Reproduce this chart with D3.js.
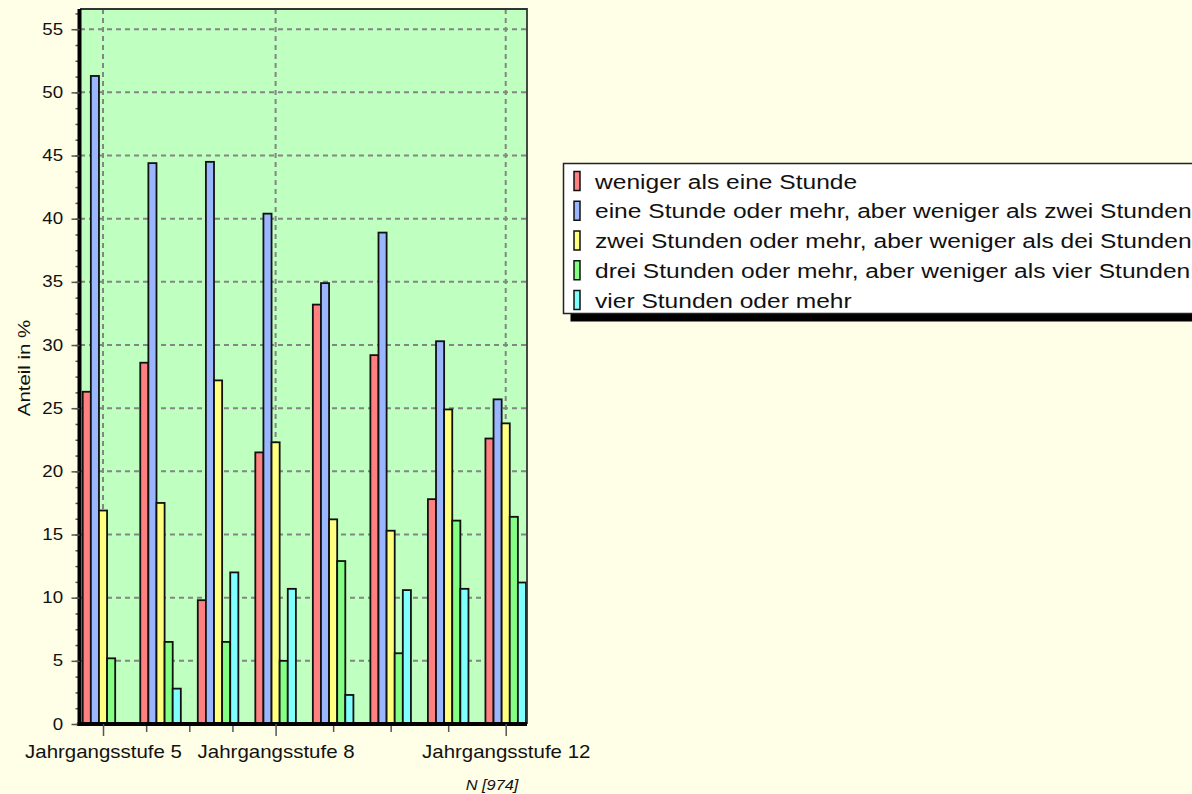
<!DOCTYPE html>
<html>
<head>
    <meta charset="utf-8">
    <title>Anteil in % nach Jahrgangsstufe</title>
    <script src="https://cdn.jsdelivr.net/npm/d3@7/dist/d3.min.js"></script>
    <style>
        body {
            margin: 0;
            background: #fffee6;
        }
        text {
            font-family: 'Liberation Sans', Arial, sans-serif;
            fill: #111;
        }
        .grid line {
            stroke: #858585;
            stroke-width: 2;
            stroke-dasharray: 5,4;
        }
        .axis .tick line {
            stroke: #555;
            stroke-width: 1.5;
        }
        .axis .domain {
            stroke: #000;
            stroke-width: 4;
        }
    </style>
</head>
<body>

<script>
    // Jahrgangsstufen (x categories)
    var groups = ['Jahrgangsstufe 5', 'Jahrgangsstufe 6', 'Jahrgangsstufe 7', 'Jahrgangsstufe 8',
                  'Jahrgangsstufe 9', 'Jahrgangsstufe 10', 'Jahrgangsstufe 11', 'Jahrgangsstufe 12'];
    var labelledGroups = [0, 3, 7];
    var minorGroupTicks = [0.75, 1.5, 2.25, 4, 5, 6];

    var seriesNames = [
        'weniger als eine Stunde',
        'eine Stunde oder mehr, aber weniger als zwei Stunden',
        'zwei Stunden oder mehr, aber weniger als dei Stunden',
        'drei Stunden oder mehr, aber weniger als vier Stunden',
        'vier Stunden oder mehr'
    ];

    // values in % per Jahrgangsstufe 5..12
    var lessThanOne = [26.3, 28.6, 9.8, 21.5, 33.2, 29.2, 17.8, 22.6];
    var oneToTwo = [51.3, 44.4, 44.5, 40.4, 34.9, 38.9, 30.3, 25.7];
    var twoToThree = [16.9, 17.5, 27.2, 22.3, 16.2, 15.3, 24.9, 23.8];
    var threeToFour = [5.2, 6.5, 6.5, 5.0, 12.9, 5.6, 16.1, 16.4];
    var fourPlus = [0, 2.8, 12.0, 10.7, 2.3, 10.6, 10.7, 11.2];

    var yTicks = [0, 5, 10, 15, 20, 25, 30, 35, 40, 45, 50, 55];
    var yLabel = 'Anteil in %';
    var nLabel = 'N [974]';

    var series = [lessThanOne, oneToTwo, twoToThree, threeToFour, fourPlus];
    var colors = ['#ff8080', '#99b6ff', '#ffff80', '#84ff84', '#80ffff'];

    var width = 1192, height = 794;
    var plotLeft = 80, plotTop = 9, plotRight = 527, plotBottom = 724;
    var stretch = 'scale(1.17,1)';

    var svg = d3.select('body').append('svg')
        .attr('width', width)
        .attr('height', height);

    var x = d3.scaleLinear()
        .domain([-0.4, 7.37])
        .range([plotLeft, plotRight]);

    var y = d3.scaleLinear()
        .domain([0, 56.6])
        .range([plotBottom, plotTop]);

    var barW = (x(1) - x(0)) * 0.141;

    // plot background
    svg.append('rect')
        .attr('x', plotLeft)
        .attr('y', plotTop)
        .attr('width', plotRight - plotLeft)
        .attr('height', plotBottom - plotTop)
        .style('fill', '#bfffbf');

    // grid
    var grid = svg.append('g').classed('grid', true);

    grid.selectAll('line.h')
        .data(yTicks.filter(function(d) { return d > 0; })).enter()
        .append('line')
        .attr('x1', plotLeft)
        .attr('x2', plotRight)
        .attr('y1', function(d) { return y(d); })
        .attr('y2', function(d) { return y(d); });

    grid.selectAll('line.v')
        .data(labelledGroups).enter()
        .append('line')
        .attr('x1', function(d) { return x(d); })
        .attr('x2', function(d) { return x(d); })
        .attr('y1', plotTop)
        .attr('y2', plotBottom);

    // bars
    var bars = svg.append('g');

    series.forEach(function(values, j) {
        bars.append('g')
            .selectAll('rect')
            .data(values).enter()
            .append('rect')
            .attr('x', function(d, i) { return x(i) + (j - 2.5) * barW; })
            .attr('y', function(d) { return y(d); })
            .attr('width', barW)
            .attr('height', function(d) { return y(0) - y(d); })
            .style('fill', colors[j])
            .style('stroke', '#111')
            .style('stroke-width', 1.8);
    });

    // frame top / right
    svg.append('path')
        .attr('d', 'M' + plotLeft + ',' + plotTop + 'H' + plotRight + 'V' + plotBottom)
        .style('fill', 'none')
        .style('stroke', '#333')
        .style('stroke-width', 1.8);

    // y axis
    svg.append('g')
        .classed('axis', true)
        .attr('transform', 'translate(' + (plotLeft - 0.5) + ',0)')
        .call(d3.axisLeft(y).tickValues(d3.range(0, 57, 1.25)).tickSize(4).tickFormat(''))
        .select('.domain').remove();

    var yax = svg.append('g')
        .classed('axis', true)
        .attr('transform', 'translate(' + (plotLeft - 0.5) + ',0)')
        .call(d3.axisLeft(y).tickValues(yTicks).tickSize(8).tickSizeOuter(0).tickPadding(6));

    yax.select('.domain')
        .attr('d', 'M0,' + plotTop + 'V' + (plotBottom + 2));

    yax.selectAll('.tick text')
        .style('font-size', '16px')
        .attr('transform', stretch);

    // x axis
    svg.append('g')
        .classed('axis', true)
        .attr('transform', 'translate(0,' + plotBottom + ')')
        .call(d3.axisBottom(x).tickValues(minorGroupTicks).tickSize(8).tickFormat(''))
        .select('.domain').remove();

    var xax = svg.append('g')
        .classed('axis', true)
        .attr('transform', 'translate(0,' + plotBottom + ')')
        .call(d3.axisBottom(x)
            .tickValues(labelledGroups)
            .tickSize(12)
            .tickSizeOuter(0)
            .tickPadding(10)
            .tickFormat(function(i) { return groups[i]; }));

    xax.select('.domain')
        .attr('d', 'M' + (plotLeft - 2.5) + ',0H' + plotRight);

    xax.selectAll('.tick text')
        .style('font-size', '17.5px')
        .attr('transform', stretch);

    // axis title
    svg.append('text')
        .text(yLabel)
        .attr('transform', 'translate(24,368) rotate(-90) ' + 'scale(1.2,1)')
        .attr('dy', '0.35em')
        .style('text-anchor', 'middle')
        .style('font-size', '17px');

    svg.append('text')
        .text(nLabel)
        .attr('transform', 'translate(492,790) ' + stretch)
        .style('text-anchor', 'middle')
        .style('font-size', '14px')
        .style('font-style', 'italic');

    // legend
    var lx = 563.5, ly = 163.5, lw = 700, lh = 150, rowH = 29.75;

    svg.append('rect')
        .attr('x', lx + 7)
        .attr('y', ly + 8)
        .attr('width', lw)
        .attr('height', lh)
        .style('fill', '#000');

    svg.append('rect')
        .attr('x', lx)
        .attr('y', ly)
        .attr('width', lw)
        .attr('height', lh)
        .style('fill', '#fff')
        .style('stroke', '#222')
        .style('stroke-width', 1.5);

    var item = svg.append('g')
        .selectAll('g')
        .data(seriesNames).enter()
        .append('g')
        .attr('transform', function(d, i) { return 'translate(0,' + (181 + i * rowH) + ')'; });

    item.append('rect')
        .attr('x', 574)
        .attr('y', -9.5)
        .attr('width', 6)
        .attr('height', 19)
        .style('fill', function(d, i) { return colors[i]; })
        .style('stroke', '#111')
        .style('stroke-width', 1.5);

    item.append('text')
        .text(function(d) { return d; })
        .attr('transform', 'translate(595,7.5) ' + stretch)
        .style('font-size', '21px');
</script>
</body>
</html>
